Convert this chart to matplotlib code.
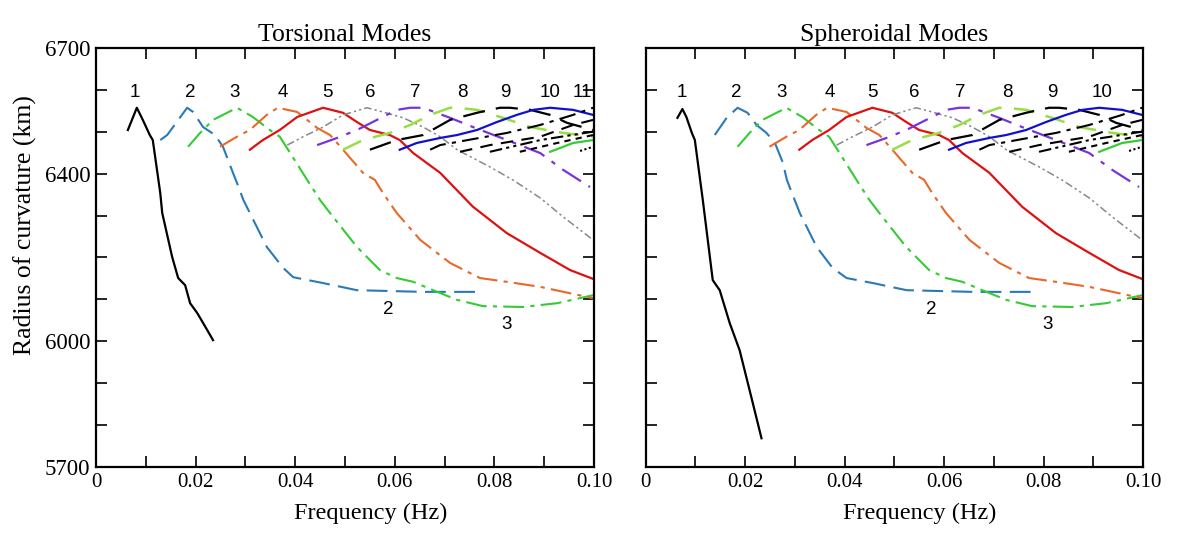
import matplotlib.pyplot as plt

# frequency (Hz) / radius of curvature (km)
# mode 1 and 2 differ between the two panels, the rest are nearly the same
t1_f = [0.0064, 0.0082, 0.0094, 0.0108, 0.0114, 0.0129, 0.0133, 0.0153, 0.0165, 0.0179, 0.0189, 0.0203, 0.0215, 0.0235]
t1_r = [6504, 6557, 6528, 6492, 6480, 6354, 6306, 6201, 6151, 6134, 6091, 6068, 6044, 6003]
s1_f = [0.0064, 0.0074, 0.0082, 0.0093, 0.0099, 0.0115, 0.0135, 0.0149, 0.0169, 0.0189, 0.0209, 0.0233]
s1_r = [6533, 6554, 6535, 6497, 6480, 6337, 6146, 6122, 6044, 5979, 5884, 5769]

t2_f = [0.0129, 0.0143, 0.0183, 0.0195, 0.0215, 0.0239, 0.0255, 0.0275, 0.0283, 0.0296, 0.0309, 0.0343, 0.0376, 0.0396, 0.0456, 0.0524, 0.0657, 0.0775]
t2_r = [6480, 6492, 6557, 6547, 6511, 6492, 6464, 6402, 6378, 6337, 6306, 6225, 6175, 6153, 6139, 6122, 6118, 6118]
s2_f = [0.0139, 0.0163, 0.0185, 0.0205, 0.0223, 0.0243, 0.0260, 0.0276, 0.0284, 0.0310, 0.0344, 0.0376, 0.0404, 0.0457, 0.0525, 0.0658, 0.0777]
s2_r = [6492, 6533, 6557, 6545, 6516, 6497, 6473, 6426, 6385, 6306, 6225, 6175, 6151, 6139, 6122, 6118, 6118]

m3_f = [0.0185, 0.0209, 0.0235, 0.0283, 0.0315, 0.0349, 0.0369, 0.0390, 0.0424, 0.0450, 0.0470, 0.0524, 0.0570, 0.0604, 0.0637, 0.0677, 0.0725, 0.0777, 0.0857, 0.0926, 0.0998]
m3_r = [6464, 6497, 6528, 6557, 6535, 6504, 6488, 6449, 6385, 6337, 6306, 6225, 6170, 6151, 6142, 6122, 6099, 6084, 6082, 6091, 6110]
m4_f = [0.0249, 0.0283, 0.0309, 0.0343, 0.0365, 0.0404, 0.0444, 0.0470, 0.0496, 0.0536, 0.0560, 0.0576, 0.0604, 0.0651, 0.0711, 0.0771, 0.0825, 0.0892, 0.0998]
m4_r = [6464, 6488, 6504, 6540, 6557, 6547, 6509, 6492, 6457, 6402, 6385, 6354, 6306, 6242, 6187, 6151, 6142, 6130, 6103]
m5_f = [0.0309, 0.0335, 0.0369, 0.0404, 0.0456, 0.0496, 0.0524, 0.0550, 0.0590, 0.0610, 0.0637, 0.0691, 0.0717, 0.0757, 0.0825, 0.0892, 0.0952, 0.0998]
m5_r = [6457, 6480, 6504, 6535, 6557, 6545, 6523, 6504, 6492, 6480, 6449, 6402, 6370, 6321, 6258, 6211, 6170, 6149]
m6_f = [0.0384, 0.0416, 0.0456, 0.0496, 0.0544, 0.0576, 0.0617, 0.0657, 0.0691, 0.0725, 0.0791, 0.0837, 0.0892, 0.0938, 0.0998]
m6_r = [6468, 6488, 6511, 6540, 6557, 6547, 6533, 6511, 6488, 6457, 6416, 6385, 6342, 6297, 6242]
m7_f = [0.0444, 0.0484, 0.0524, 0.0564, 0.0604, 0.0631, 0.0657, 0.0711, 0.0757, 0.0825, 0.0892, 0.0938, 0.0992]
m7_r = [6468, 6485, 6504, 6528, 6552, 6557, 6557, 6533, 6511, 6480, 6449, 6409, 6368]
m8_f = [0.0496, 0.0536, 0.0590, 0.0631, 0.0671, 0.0711, 0.0725, 0.0765, 0.0817, 0.0872, 0.0938, 0.0998]
m8_r = [6457, 6480, 6497, 6516, 6540, 6557, 6557, 6552, 6533, 6511, 6497, 6488]
m9_f = [0.0550, 0.0604, 0.0657, 0.0711, 0.0765, 0.0811, 0.0831, 0.0872, 0.0912, 0.0946, 0.0998]
m9_r = [6457, 6480, 6492, 6528, 6545, 6557, 6557, 6552, 6540, 6521, 6504]
m10_f = [0.0610, 0.0644, 0.0691, 0.0725, 0.0765, 0.0805, 0.0845, 0.0878, 0.0912, 0.0958, 0.0998]
m10_r = [6457, 6473, 6485, 6492, 6504, 6523, 6540, 6552, 6557, 6552, 6540]
m11_f = [0.0671, 0.0691, 0.0825, 0.0892, 0.0958, 0.0998]
m11_r = [6457, 6468, 6497, 6516, 6540, 6557]
m12_f = [0.0731, 0.0791, 0.0892, 0.0958, 0.0998]
m12_r = [6452, 6468, 6488, 6516, 6528]
m13_f = [0.0791, 0.0892, 0.0998]
m13_r = [6452, 6480, 6500]
m14_f = [0.0851, 0.0926, 0.0998]
m14_r = [6452, 6473, 6492]
m15_f = [0.0912, 0.0958, 0.0998]
m15_r = [6452, 6473, 6480]
m16_f = [0.0972, 0.0998]
m16_r = [6454, 6464]

# mode number labels along the top
t_lab_f = [0.0078, 0.0189, 0.0279, 0.0376, 0.0464, 0.0550, 0.0641, 0.0735, 0.0821, 0.0912, 0.0976]
s_lab_f = [0.0072, 0.0183, 0.0274, 0.0370, 0.0457, 0.0541, 0.0632, 0.0728, 0.0817, 0.0918]
lab_r = 6593

serif = 'Liberation Serif'

# (colour, linewidth, dash pattern) for modes 3..16
styles = [
    (m3_f, m3_r, '#33cc33', 1.5, (10, 3, 2, 3)),
    (m4_f, m4_r, '#e8682a', 1.5, (10, 3, 2, 3)),
    (m5_f, m5_r, '#dd1111', 1.6, None),
    (m6_f, m6_r, '#888888', 1.1, (5, 2, 1.5, 2, 1.5, 2)),
    (m7_f, m7_r, '#7733dd', 1.6, (10, 4, 2, 4)),
    (m8_f, m8_r, '#99dd44', 1.8, (8, 5)),
    (m9_f, m9_r, 'black', 1.6, (10, 5)),
    (m10_f, m10_r, '#1111cc', 1.6, None),
    (m11_f, m11_r, 'black', 1.5, (8, 3, 2, 3)),
    (m12_f, m12_r, 'black', 1.5, (6, 4)),
    (m13_f, m13_r, 'black', 1.5, (6, 2, 1.5, 2, 1.5, 2)),
    (m14_f, m14_r, 'black', 1.5, (3, 2.5)),
    (m15_f, m15_r, '#33cc33', 1.6, None),
    (m16_f, m16_r, 'black', 1.5, (1, 1.2)),
]

fig = plt.figure(figsize=(12, 5.37), dpi=100)
ax1 = fig.add_axes([0.080, 0.130, 0.415, 0.781])
ax2 = fig.add_axes([0.538, 0.130, 0.4145, 0.781])

panels = [
    (ax1, 'Torsional Modes', t1_f, t1_r, t2_f, t2_r, t_lab_f, (0.0586, 6075), (0.0825, 6040)),
    (ax2, 'Spheroidal Modes', s1_f, s1_r, s2_f, s2_r, s_lab_f, (0.0575, 6075), (0.0809, 6040)),
]

for ax, title, f1, r1, f2, r2, lab_f, pos2, pos3 in panels:
    ax.plot(f1, r1, color='black', lw=1.6)
    ax.plot(f2, r2, color='#2a7ab8', lw=1.5, dashes=(10, 4))
    for f, r, c, lw, d in styles:
        if d is None:
            ax.plot(f, r, color=c, lw=lw)
        else:
            ax.plot(f, r, color=c, lw=lw, dashes=d)

    for i, f in enumerate(lab_f):
        ax.text(f, lab_r, str(i + 1), ha='center', va='center',
                fontsize=13.5, family='Liberation Sans')
    ax.text(pos2[0], pos2[1], '2', ha='center', va='center', fontsize=13.5, family='Liberation Sans')
    ax.text(pos3[0], pos3[1], '3', ha='center', va='center', fontsize=13.5, family='Liberation Sans')

    ax.set_xlim(0, 0.10)
    ax.set_ylim(5700, 6700)
    ax.set_xticks([i * 0.01 for i in range(11)])
    ax.set_xticklabels(['0', '', '0.02', '', '0.04', '', '0.06', '', '0.08', '', '0.10'],
                       family=serif, fontsize=15)
    ax.set_yticks(range(5700, 6701, 100))
    ax.tick_params(direction='in', length=8, width=1.2, top=True, right=True, pad=4)
    for s in ax.spines.values():
        s.set_linewidth(1.6)
    ax.set_xlabel('Frequency (Hz)', family=serif, fontsize=17.5)
    ax.xaxis.set_label_coords(0.552, -0.085)
    ax.set_title(title, family=serif, fontsize=18.5, pad=5)

ax1.set_yticklabels(['5700', '', '', '6000', '', '', '', '6400', '', '', '6700'],
                    family=serif, fontsize=16.5)
ax1.set_ylabel('Radius of curvature (km)', family=serif, fontsize=18.5)
ax1.yaxis.set_label_coords(-0.118, 0.578)
ax2.set_yticklabels([])

fig.savefig('out.png', dpi=100)
